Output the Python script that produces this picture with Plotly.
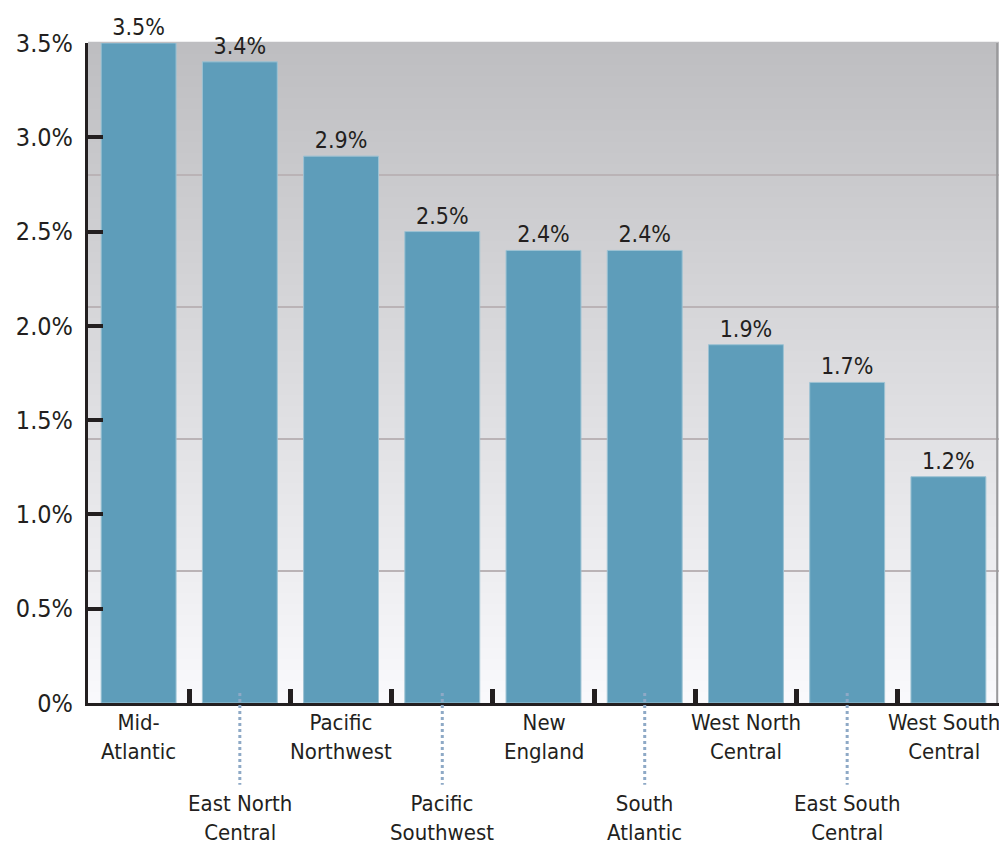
import plotly.graph_objects as go

regions = ['Mid-<br>Atlantic', 'East North<br>Central', 'Pacific<br>Northwest',
           'Pacific<br>Southwest', 'New<br>England', 'South<br>Atlantic',
           'West North<br>Central', 'East South<br>Central', 'West South<br>Central']
growth = [3.5, 3.4, 2.9, 2.5, 2.4, 2.4, 1.9, 1.7, 1.2]

y_ticks = [0, 0.5, 1.0, 1.5, 2.0, 2.5, 3.0, 3.5]
y_tick_text = ['0%', '0.5%', '1.0%', '1.5%', '2.0%', '2.5%', '3.0%', '3.5%']
grid_vals = [0.7, 1.4, 2.1, 2.8]

FONT = 'DejaVu Sans Condensed, Liberation Sans Narrow, sans-serif'
BAR = '#5e9dba'
INK = '#231f20'

fig = go.Figure(go.Bar(
    x=list(range(len(regions))), y=growth,
    marker=dict(color=BAR, line=dict(color='#9cc2d3', width=1)),
    width=0.74,
    text=['%.1f%%' % v for v in growth], textposition='outside',
    textfont=dict(family=FONT, size=23, color=INK),
    cliponaxis=False,
))

# gray gradient background, darker at the top
shapes = []
n = 60
for i in range(n):
    t = (i + 0.5) / n
    c = int(250 - 60 * t)
    shapes.append(dict(type='rect', xref='paper', yref='paper',
                       x0=0, x1=1, y0=i / n, y1=(i + 1) / n + 0.002,
                       fillcolor='rgb(%d,%d,%d)' % (c, c, c + 3),
                       line=dict(width=0), layer='below'))
for g in grid_vals:
    shapes.append(dict(type='line', xref='paper', yref='y', x0=0, x1=1, y0=g, y1=g,
                       line=dict(color='#bab3b6', width=2), layer='below'))
shapes.append(dict(type='line', xref='paper', yref='paper', x0=0.998, x1=0.998, y0=0, y1=1,
                   line=dict(color='#9a9a9c', width=2)))

# category labels, alternating rows with dotted leaders for the lower row
annotations = []
for i, name in enumerate(regions):
    low = i % 2 == 1
    annotations.append(dict(x=i, y=0, xref='x', yref='paper', text=name,
                            showarrow=False, yanchor='top',
                            yshift=-86 if low else -5,
                            xshift=-4 if i == len(regions) - 1 else 0,
                            font=dict(family=FONT, size=22, color=INK)))
    if low:
        shapes.append(dict(type='line', xref='x', yref='paper', x0=i, x1=i,
                           y0=0.015, y1=-0.124,
                           line=dict(color='#8ea9c6', width=3, dash='dot')))

# page body adds an 8px margin all round, keep the page inside the window
fig.update_layout(
    width=991, height=843,
    margin=dict(l=80, r=0, t=35, b=148),
    paper_bgcolor='white', plot_bgcolor='rgba(0,0,0,0)',
    showlegend=False, bargap=0.26,
    shapes=shapes, annotations=annotations,
    xaxis=dict(range=[-0.5, len(regions) - 0.5], tickvals=[i - 0.5 for i in range(len(regions) + 1)],
               showticklabels=False, ticks='inside', ticklen=14, tickwidth=5,
               tickcolor=INK, showline=True, linecolor=INK, linewidth=3,
               showgrid=False, zeroline=False, layer='below traces', automargin=False),
    yaxis=dict(range=[0, 3.5], tickvals=y_ticks, ticktext=y_tick_text,
               ticks='inside', ticklen=15, tickwidth=4, tickcolor=INK,
               showline=True, linecolor=INK, linewidth=3,
               showgrid=False, zeroline=False, ticklabelstandoff=7,
               tickfont=dict(family=FONT, size=25, color=INK), automargin=False),
)

fig.write_html('out.html')
